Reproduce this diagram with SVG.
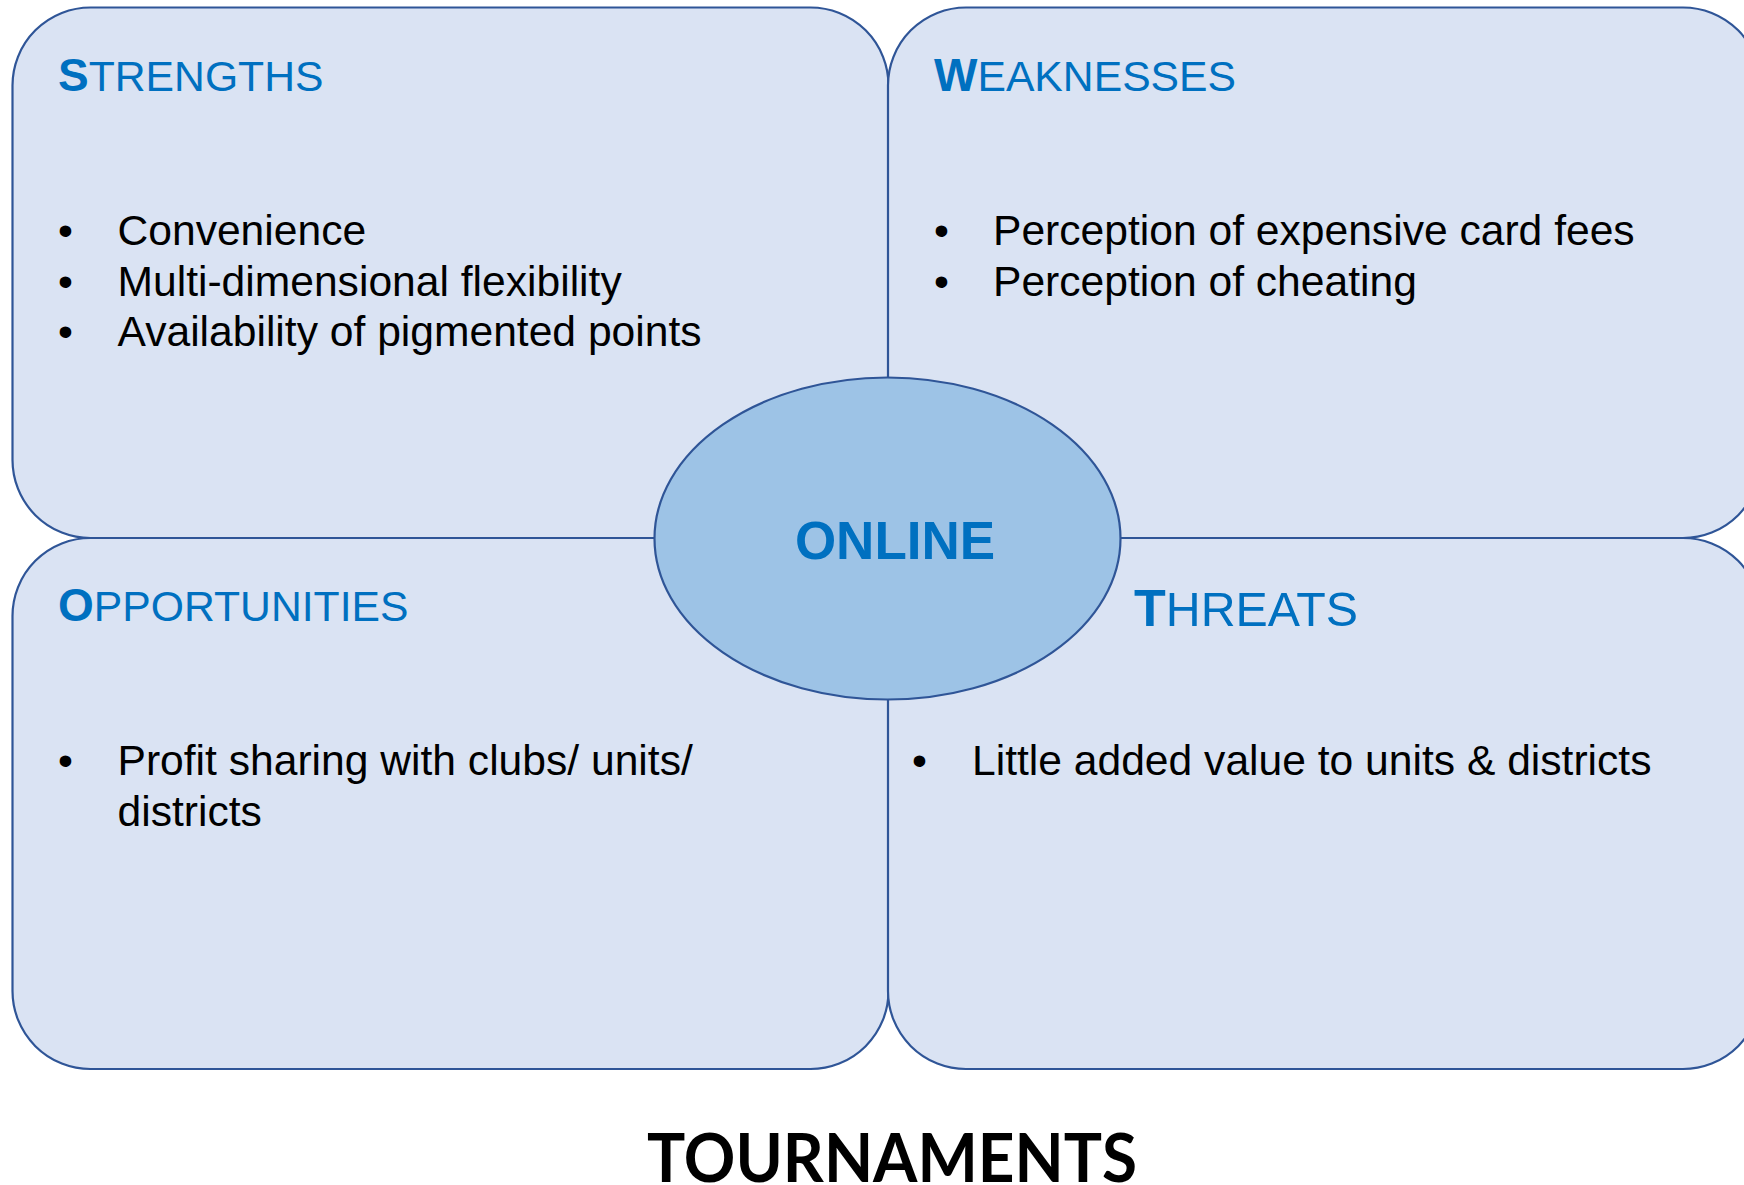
<svg xmlns="http://www.w3.org/2000/svg" width="1744" height="1185" viewBox="0 0 1744 1185">
  <style>
    .box { fill: #DAE3F3; stroke: #2F5597; stroke-width: 2.2; }
    .hub { fill: #9DC3E6; stroke: #2F5597; stroke-width: 2.2; }
    .head { font-family: "Liberation Sans", Arial, sans-serif; fill: #0070C0; }
    .cap { font-weight: bold; }
    .body { font-family: "Liberation Sans", Arial, sans-serif; font-size: 42.6px; fill: #000000; }
    .center { font-family: "Liberation Sans", Arial, sans-serif; font-size: 53px; font-weight: bold; fill: #0070C0; }
    .title { font-family: Lato, "Open Sans", sans-serif; font-size: 66px; font-weight: bold; fill: #000000; }
  </style>
  <rect width="1744" height="1185" fill="#FFFFFF"/>

  <g id="strengths">
    <rect class="box" x="12.5" y="7.5" width="876" height="530.5" rx="78" ry="78"/>
    <text class="head" x="58" y="90.5"><tspan class="cap" font-size="46">S</tspan><tspan font-size="42.7">TRENGTHS</tspan></text>
    <text class="body" x="58" y="245">•</text>
    <text class="body" x="117.5" y="245">Convenience</text>
    <text class="body" x="58" y="295.5">•</text>
    <text class="body" x="117.5" y="295.5">Multi-dimensional flexibility</text>
    <text class="body" x="58" y="346">•</text>
    <text class="body" x="117.5" y="346">Availability of pigmented points</text>
  </g>

  <g id="weaknesses">
    <rect class="box" x="888" y="7.5" width="873" height="530.5" rx="78" ry="78"/>
    <text class="head" x="934" y="90.5"><tspan class="cap" font-size="46">W</tspan><tspan font-size="42.7">EAKNESSES</tspan></text>
    <text class="body" x="934" y="245">•</text>
    <text class="body" x="993" y="245">Perception of expensive card fees</text>
    <text class="body" x="934" y="295.5">•</text>
    <text class="body" x="993" y="295.5">Perception of cheating</text>
  </g>

  <g id="opportunities">
    <rect class="box" x="12.5" y="538" width="876" height="531" rx="78" ry="78"/>
    <text class="head" x="58" y="621"><tspan class="cap" font-size="46">O</tspan><tspan font-size="42.7">PPORTUNITIES</tspan></text>
    <text class="body" x="58" y="775">•</text>
    <text class="body" x="117.5" y="775">Profit sharing with clubs/ units/</text>
    <text class="body" x="117.5" y="826">districts</text>
  </g>

  <g id="threats">
    <rect class="box" x="888" y="538" width="873" height="531" rx="78" ry="78"/>
    <text class="head" x="1134" y="626"><tspan class="cap" font-size="52">T</tspan><tspan font-size="48.3">HREATS</tspan></text>
    <text class="body" x="912" y="775">•</text>
    <text class="body" x="972" y="775">Little added value to units &amp; districts</text>
  </g>

  <g id="connectors"></g>

  <g id="online">
    <ellipse class="hub" cx="887.5" cy="538.5" rx="233" ry="161"/>
    <text class="center" x="895" y="559" text-anchor="middle">ONLINE</text>
  </g>

  <g id="tournaments">
    <text class="title" x="647" y="1182" textLength="490" lengthAdjust="spacingAndGlyphs">TOURNAMENTS</text>
  </g>
</svg>
